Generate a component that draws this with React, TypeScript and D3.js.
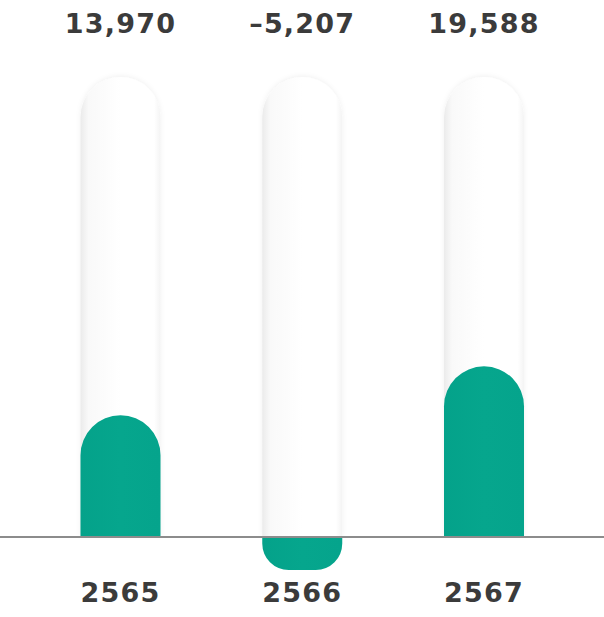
import React from "react";
import * as d3 from "d3";

const categories = ["2565", "2566", "2567"];
const values = [13970, -5207, 19588];
const valueLabels = ["13,970", "\u20135,207", "19,588"];

const W = 604;
const H = 617;
const BASE = 537;
const TRACK_TOP = 77;
const BAR_W = 80;

function barPath(cx: number, y0: number, y1: number): string {
  const x0 = cx - BAR_W / 2;
  const x1 = cx + BAR_W / 2;
  const h = Math.abs(y1 - y0);
  const r = Math.min(BAR_W / 2, h * 0.62);
  if (y1 < y0) {
    return `M${x0},${y0} L${x0},${y1 + r} A${BAR_W / 2},${r} 0 0 1 ${x1},${y1 + r} L${x1},${y0} Z`;
  }
  const rr = Math.min(h * 0.8, 27);
  return `M${x0},${y0} L${x1},${y0} L${x1},${y1 - rr} A${rr},${rr} 0 0 1 ${x1 - rr},${y1} L${x0 + rr},${y1} A${rr},${rr} 0 0 1 ${x0},${y1 - rr} Z`;
}

export default function App() {
  const x = d3.scalePoint<string>().domain(categories).range([120.5, 484]);
  const y = d3.scaleLinear().domain([0, 52800]).range([BASE, TRACK_TOP]);
  const yNeg = d3.scaleLinear().domain([-5207, 0]).range([570, BASE]);

  return (
    <svg
      width={W}
      height={H}
      style={{ position: "absolute", left: 0, top: 0, display: "block", background: "#fff" }}
    >
      <defs>
        <linearGradient id="trackGrad" x1="0" x2="1" y1="0" y2="0">
          <stop offset="0" stopColor="#ebebeb" />
          <stop offset="0.1" stopColor="#f9f9f9" />
          <stop offset="0.5" stopColor="#ffffff" />
          <stop offset="0.92" stopColor="#ffffff" />
          <stop offset="1" stopColor="#f4f4f4" />
        </linearGradient>
        <linearGradient id="barGrad" x1="0" x2="1" y1="0" y2="0">
          <stop offset="0" stopColor="#04a28a" />
          <stop offset="0.5" stopColor="#06a68d" />
          <stop offset="1" stopColor="#05a48c" />
        </linearGradient>
        <filter id="trackShadow" x="-20%" y="-10%" width="140%" height="120%">
          <feDropShadow dx="0" dy="-1" stdDeviation="2.5" floodColor="#000" floodOpacity="0.06" />
        </filter>
      </defs>
      {categories.map((c) => {
        const cx = x(c)!;
        return (
          <path
            key={"t" + c}
            d={barPath(cx, BASE, TRACK_TOP)}
            fill="url(#trackGrad)"
            filter="url(#trackShadow)"
          />
        );
      })}
      {categories.map((c, i) => {
        const cx = x(c)!;
        const v = values[i];
        const yy = v >= 0 ? y(v) : yNeg(v);
        return <path key={"b" + c} d={barPath(cx, BASE, yy)} fill="url(#barGrad)" />;
      })}
      <line x1={0} x2={W} y1={BASE} y2={BASE} stroke="#8c8c8c" strokeWidth={2} />
      {categories.map((c, i) => (
        <text
          key={"v" + c}
          x={x(c)!}
          y={33}
          textAnchor="middle"
          fontFamily="DejaVu Sans"
          fontWeight="bold"
          fontSize={27}
          letterSpacing={1.2}
          fill="#3b3b3b"
        >
          {valueLabels[i]}
        </text>
      ))}
      {categories.map((c) => (
        <text
          key={"c" + c}
          x={x(c)!}
          y={602}
          textAnchor="middle"
          fontFamily="DejaVu Sans"
          fontWeight="bold"
          fontSize={27}
          letterSpacing={1.2}
          fill="#3b3b3b"
        >
          {c}
        </text>
      ))}
    </svg>
  );
}
